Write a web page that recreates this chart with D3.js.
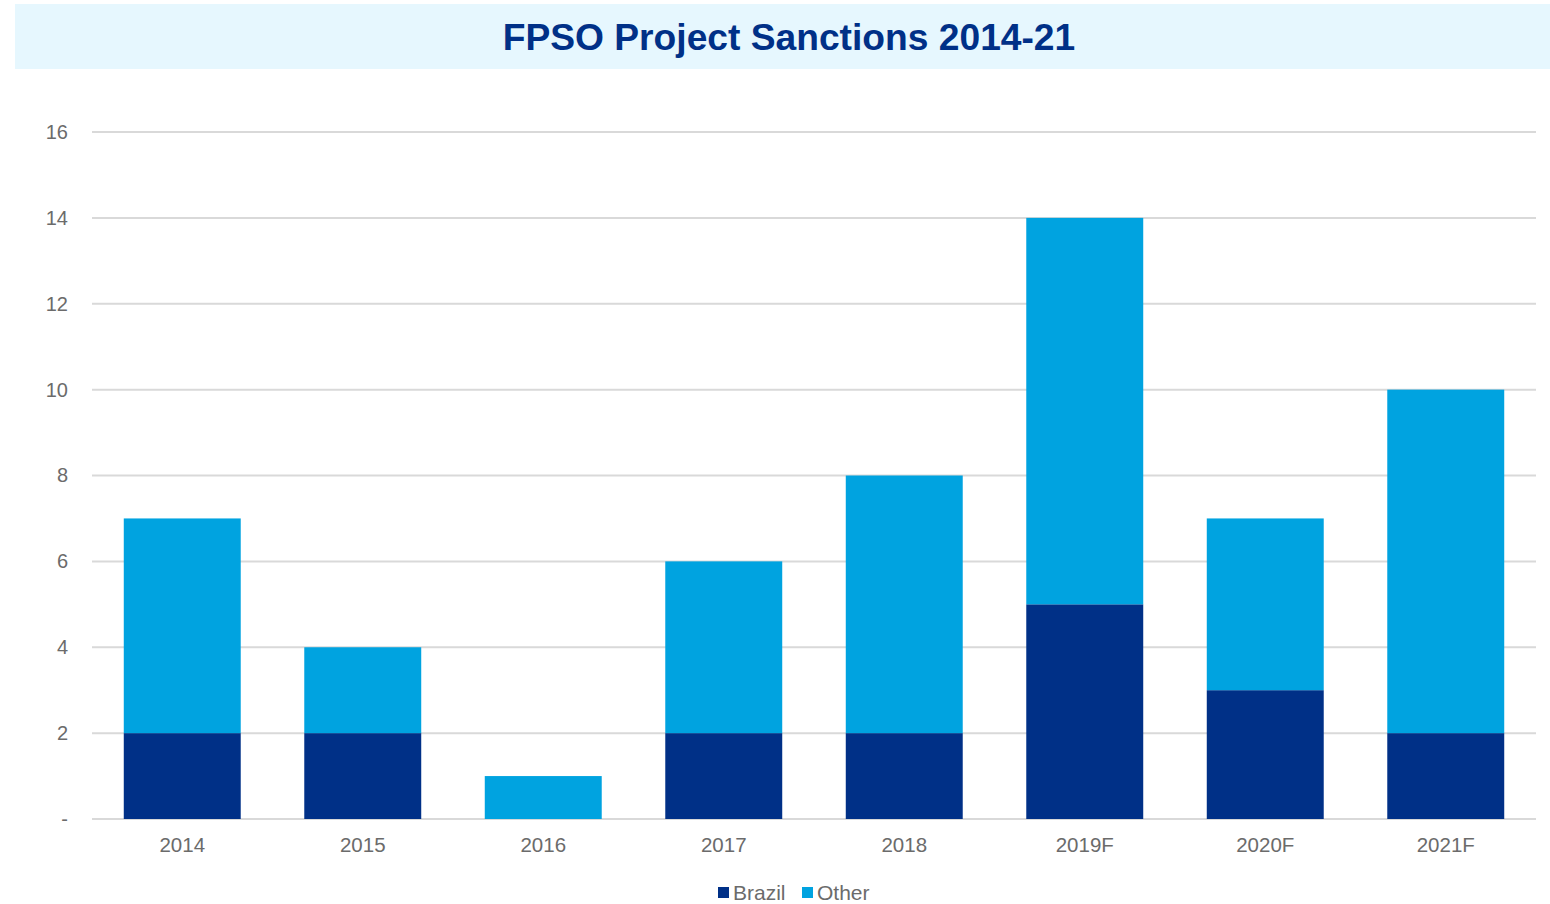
<!DOCTYPE html>
<html>
<head>
<meta charset="utf-8">
<script src="https://cdn.jsdelivr.net/npm/d3@7"></script>
<style>
  html, body { margin: 0; padding: 0; background: #fff; }
  svg { display: block; font-family: "Liberation Sans", Arial, sans-serif; }
</style>
</head>
<body>
<svg id="chart" width="1550" height="904"></svg>
<script>
// FPSO project sanctions per year, split by region
const years = ["2014", "2015", "2016", "2017", "2018", "2019F", "2020F", "2021F"];
const brazil = [2, 2, 0, 2, 2, 5, 3, 2];
const other = [5, 2, 1, 4, 6, 9, 4, 8];
const yTicks = [0, 2, 4, 6, 8, 10, 12, 14, 16];
const seriesNames = ["Brazil", "Other"];
const seriesColors = ["#003087", "#00a3e0"];

const svg = d3.select("#chart");
const W = 1550, H = 904;
const m = { left: 92, right: 14, top: 132, bottom: 85 };
const labelColor = "#6b6b6b";

// Title banner
svg.append("rect")
  .attr("x", 15).attr("y", 4).attr("width", W - 15).attr("height", 65)
  .attr("fill", "#e6f7fe");
svg.append("text")
  .attr("x", 789).attr("y", 50)
  .attr("text-anchor", "middle")
  .attr("font-size", 37.2).attr("font-weight", "bold")
  .attr("fill", "#003087")
  .text("FPSO Project Sanctions 2014-21");

const x = d3.scaleBand().domain(years).range([m.left, W - m.right]).paddingInner(0.352).paddingOuter(0.176);
const y = d3.scaleLinear().domain([0, 16]).range([H - m.bottom, m.top]);

// Gridlines
svg.append("g").selectAll("line").data(yTicks).join("line")
  .attr("x1", m.left).attr("x2", W - m.right)
  .attr("y1", d => y(d)).attr("y2", d => y(d))
  .attr("stroke", "#d9d9d9").attr("stroke-width", 2);

// Y axis labels
const yAxis = d3.axisLeft(y).tickValues(yTicks).tickSize(0).tickPadding(0)
  .tickFormat(d => d === 0 ? "-" : d);
const gy = svg.append("g").attr("transform", `translate(68,0)`).call(yAxis);
gy.select(".domain").remove();
gy.selectAll("text").attr("font-size", 20).attr("fill", labelColor)
  .attr("font-family", "'Liberation Sans', Arial, sans-serif");

// Stacked bars
const rows = years.map((yr, i) => ({ year: yr, Brazil: brazil[i], Other: other[i] }));
const stacked = d3.stack().keys(seriesNames)(rows);
svg.append("g").selectAll("g").data(stacked).join("g")
  .attr("fill", (d, i) => seriesColors[i])
  .selectAll("rect").data(d => d).join("rect")
  .attr("x", d => x(d.data.year))
  .attr("width", x.bandwidth())
  .attr("y", d => y(d[1]))
  .attr("height", d => y(d[0]) - y(d[1]));

// X axis labels
const xAxis = d3.axisBottom(x).tickSize(0).tickPadding(0);
const gx = svg.append("g").attr("transform", `translate(0,${H - m.bottom + 14})`).call(xAxis);
gx.select(".domain").remove();
gx.selectAll("text").attr("font-size", 20.5).attr("fill", labelColor)
  .attr("dy", "0.95em")
  .attr("font-family", "'Liberation Sans', Arial, sans-serif");

// Legend
const legendX = [718, 802];
const lg = svg.append("g").selectAll("g").data(seriesNames).join("g")
  .attr("transform", (d, i) => `translate(${legendX[i]},887)`);
lg.append("rect").attr("width", 11).attr("height", 11).attr("fill", (d, i) => seriesColors[i]);
lg.append("text").attr("x", 15).attr("y", 13)
  .attr("font-size", 21).attr("fill", labelColor).text(d => d);
</script>
</body>
</html>
